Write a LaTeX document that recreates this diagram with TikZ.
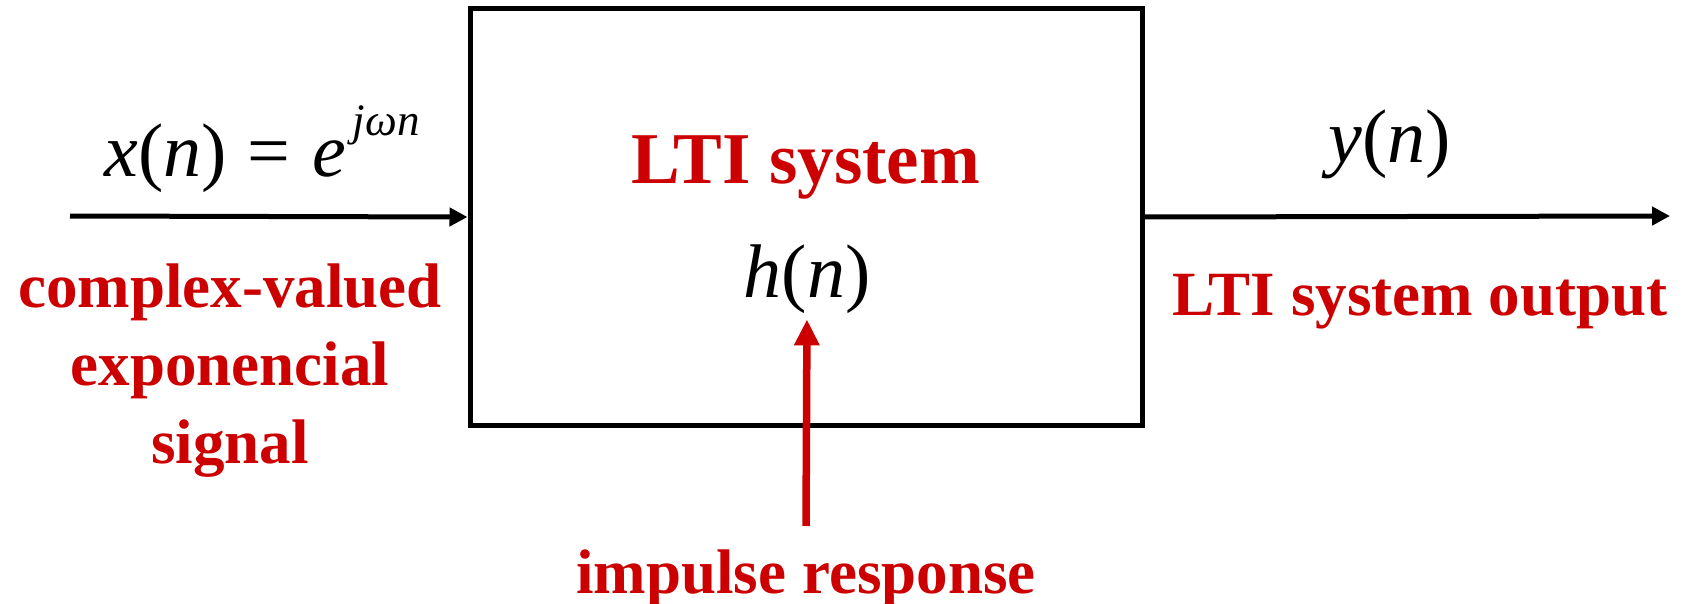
\documentclass[tikz,border=0pt]{standalone}
\usepackage{fontspec}
\setmainfont{Liberation Serif}
\usetikzlibrary{arrows.meta}
\definecolor{lred}{HTML}{CC0000}

\begin{document}
\begin{tikzpicture}[x=1pt,y=-1pt,
        sig/.style={line width=5pt,-{Triangle[length=18pt,width=18pt]}},
        imp/.style={line width=7.5pt,lred,-{Triangle[length=26pt,width=24pt]}},
        lbl/.style={text=lred,font=\fontsize{63}{78}\selectfont\bfseries,inner sep=0pt,anchor=base,align=center},
        eq/.style={font=\fontsize{76}{90}\selectfont,inner sep=0pt,anchor=base}]
        \useasboundingbox (0,0) rectangle (1688,604);

        \node[draw,line width=5pt,minimum width=672pt,minimum height=416pt] (sys) at (806,217) {};
        \node[lbl,font=\fontsize{73}{88}\selectfont\bfseries] (name) at (806,184) {LTI system};
        \node[eq] (hn) at (807,297) {\textit{h}(\textit{n})};

        \node[eq] (xn) at (262,177) {\textit{x}(\textit{n})\hspace{0.28em}=\hspace{0.28em}\textit{e}\hspace{7pt}\raisebox{0.55em}{\fontsize{45}{45}\selectfont\itshape jωn}};
        \node[eq] (yn) at (1390,163) {\textit{y}(\textit{n})};

        % base is the last line here
        \node[lbl] (xlbl) at (230,463) {complex-valued\\exponencial\\signal};
        \node[lbl] (ylbl) at (1420,315) {LTI system output};
        \node[lbl] (hlbl) at (806,593) {impulse response};

        \coordinate (in) at (70,216);
        \coordinate (out) at (1670,216);
        \coordinate (hsrc) at (806,526);

        \path[sig] (in) edge (sys.west);
        \path[sig] (sys.east) edge (out);
        \path[imp,shorten >=6pt] (hsrc) edge (hn.south);
    \end{tikzpicture}
\end{document}
